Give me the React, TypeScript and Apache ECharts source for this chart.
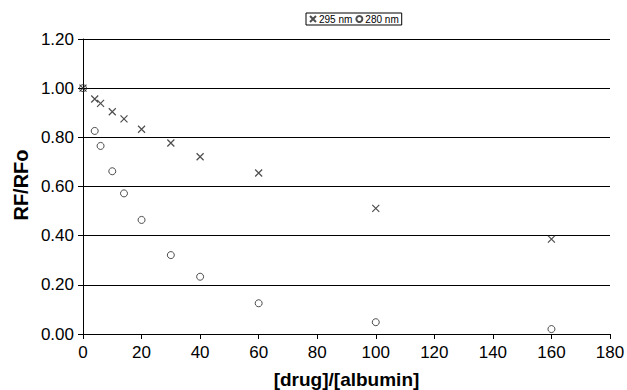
import React, { useEffect, useRef } from "react";
import * as echarts from "echarts";

const ratio = [0, 4, 6, 10, 14, 20, 30, 40, 60, 100, 160];
const rf295 = [1.0, 0.956, 0.938, 0.904, 0.875, 0.833, 0.777, 0.721, 0.655, 0.511, 0.386];
const rf280 = [1.0, 0.826, 0.765, 0.662, 0.572, 0.464, 0.321, 0.233, 0.125, 0.048, 0.02];
const seriesNames = ["295 nm", "280 nm"];

const CROSS = "path://M0,0L10,10M10,0L0,10";
const FONT = "'Liberation Sans', Arial, sans-serif";

export default function App() {
  const ref = useRef<HTMLDivElement>(null);
  useEffect(() => {
    if (!ref.current) return;
    const chart = echarts.init(ref.current, null, { renderer: "svg" });
    chart.setOption({
      animation: false,
      backgroundColor: "#fff",
      textStyle: { fontFamily: FONT },
      grid: { left: 83, right: 17, top: 39, bottom: 56, outerBoundsMode: "none", containLabel: false },
      legend: {
        left: 306,
        top: 13,
        orient: "horizontal",
        itemWidth: 6,
        itemHeight: 6,
        itemGap: 3,
        padding: [1, 3, 1, 3],
        borderColor: "#000",
        borderWidth: 1,
        borderRadius: 0,
        textStyle: { fontSize: 10, color: "#000", fontFamily: FONT, padding: [0, 0, 0, -2] },
        data: seriesNames,
      },
      xAxis: {
        type: "value",
        min: 0,
        max: 180,
        interval: 20,
        axisLine: { lineStyle: { color: "#000", width: 1 } },
        axisTick: { show: true, length: 5, inside: false, lineStyle: { color: "#000" } },
        axisLabel: { color: "#000", fontSize: 17, fontFamily: FONT, margin: 10 },
        splitLine: { show: false },
        name: "[drug]/[albumin]",
        nameLocation: "middle",
        nameGap: 36,
        nameTextStyle: { fontSize: 19, fontWeight: "bold", color: "#000", fontFamily: FONT },
      },
      yAxis: {
        type: "value",
        min: 0,
        max: 1.2,
        interval: 0.2,
        axisLine: { show: true, lineStyle: { color: "#000", width: 1 } },
        axisTick: { show: true, length: 5, inside: false, lineStyle: { color: "#000" } },
        axisLabel: {
          color: "#000",
          fontSize: 17,
          fontFamily: FONT,
          margin: 9,
          formatter: (v: number) => v.toFixed(2),
        },
        splitLine: { show: true, lineStyle: { color: "#000", width: 1 } },
      },
      graphic: [
        {
          type: "text",
          x: 21,
          y: 185,
          rotation: Math.PI / 2,
          style: {
            text: "RF/RFo",
            fontSize: 20,
            fontWeight: "bold",
            fontFamily: FONT,
            fill: "#000",
            align: "center",
            verticalAlign: "middle",
          },
        },
      ],
      series: [
        {
          name: seriesNames[0],
          type: "scatter",
          symbol: CROSS,
          symbolSize: 7,
          itemStyle: { color: "transparent", borderColor: "#222", borderWidth: 1.2 },
          data: ratio.map((x, i) => [x, rf295[i]]),
          z: 3,
        },
        {
          name: seriesNames[1],
          type: "scatter",
          symbol: "circle",
          symbolSize: 7,
          itemStyle: { color: "transparent", borderColor: "#222", borderWidth: 1 },
          data: ratio.map((x, i) => [x, rf280[i]]),
          z: 3,
        },
      ],
    });
    return () => chart.dispose();
  }, []);
  return <div ref={ref} style={{ width: 627, height: 390, position: "absolute", left: 0, top: 0 }} />;
}
